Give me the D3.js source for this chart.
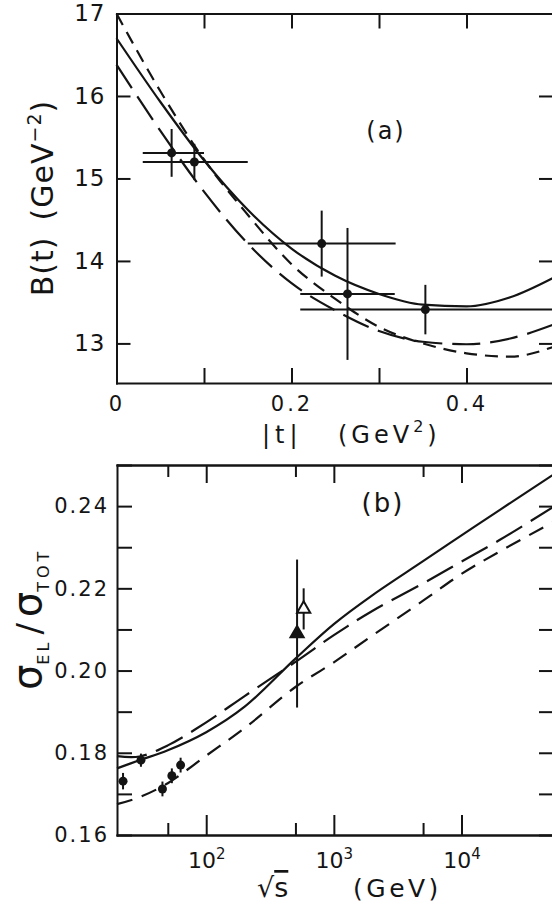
<!DOCTYPE html>
<html>
<head>
<meta charset="utf-8">
<script src="https://cdn.jsdelivr.net/npm/d3@7"></script>
<style>
  body { margin: 0; background: #fff; }
  svg { display: block; }
</style>
</head>
<body>
<div id="chart"></div>
<script>
// ---- panel (a): slope B(t) vs |t| ----
const tMid  = [0.063, 0.089, 0.2345, 0.264, 0.353];
const bMid  = [15.31, 15.20, 14.21, 13.60, 13.41];
const tLow  = [0.030, 0.030, 0.150, 0.210, 0.210];
const tHigh = [0.100, 0.150, 0.319, 0.318, 0.500];
const bErr  = [0.29, 0.22, 0.40, 0.80, 0.30];

const curveT     = [0, 0.05, 0.10, 0.15, 0.20, 0.25, 0.30, 0.35, 0.40, 0.45, 0.50];
const bSolid     = [16.70, 15.93, 15.22, 14.62, 14.15, 13.82, 13.60, 13.47, 13.45, 13.56, 13.80];
const bLongDash  = [16.38, 15.58, 14.84, 14.21, 13.73, 13.40, 13.15, 13.02, 12.99, 13.06, 13.23];
const bShortDash = [17.00, 16.06, 15.23, 14.56, 13.96, 13.54, 13.20, 13.00, 12.88, 12.84, 12.96];

const tTicks      = [0, 0.1, 0.2, 0.3, 0.4, 0.5];
const tTickLabels = ["0", "", "0.2", "", "0.4", ""];
const bTicks      = [13, 14, 15, 16, 17];

// ---- panel (b): sigma_el / sigma_tot vs sqrt(s) ----
const isrS     = [22.3, 30.8, 45.4, 53.8, 63.0];
const isrRatio = [0.1731, 0.1782, 0.1712, 0.1744, 0.1770];
const isrErr   = [0.0020, 0.0016, 0.0018, 0.0018, 0.0018];

const collS      = [515, 580];
const collRatio  = [0.2090, 0.2150];
const collErr    = [0.0180, 0.0050];
const collFilled = [true, false];

const curveS     = [20, 30, 50, 100, 200, 500, 1000, 2000, 5000, 10000, 20000, 55000];
const rSolid     = [0.1762, 0.1782, 0.1806, 0.1850, 0.1912, 0.2029, 0.2113, 0.2183, 0.2266, 0.2329, 0.2391, 0.2481];
const rLongDash  = [0.1792, 0.1791, 0.1818, 0.1874, 0.1938, 0.2021, 0.2086, 0.2145, 0.2212, 0.2265, 0.2318, 0.2402];
const rShortDash = [0.1675, 0.1692, 0.1726, 0.1793, 0.1860, 0.1960, 0.2020, 0.2085, 0.2170, 0.2235, 0.2290, 0.2365];

const sMajor     = [100, 1000, 10000];
const sMajorExp  = ["2", "3", "4"];
const sMinor     = [50, 500, 5000];
const rTicks      = [0.16, 0.17, 0.18, 0.19, 0.20, 0.21, 0.22, 0.23, 0.24, 0.25];
const rTickLabels = ["0.16", "", "0.18", "", "0.20", "", "0.22", "", "0.24", ""];

const width = 552, height = 905;
const ink = "#141414";
const fontFam = '"DejaVu Sans", sans-serif';

const svg = d3.select("#chart").append("svg")
    .attr("width", width)
    .attr("height", height)
    .attr("font-family", fontFam);

svg.append("rect").attr("width", width).attr("height", height).attr("fill", "#fff");

function styleAxis(g, fontSize, spacing) {
    g.attr("font-family", fontFam).attr("font-size", fontSize);
    g.select(".domain").attr("stroke", ink).attr("stroke-width", 2).attr("stroke-linecap", "square");
    g.selectAll(".tick line").attr("stroke", ink).attr("stroke-width", 2);
    g.selectAll(".tick text").attr("fill", ink).attr("letter-spacing", spacing);
}

// ================= panel (a) =================
const xA = d3.scaleLinear().domain([0, 0.5]).range([116.5, 554]);
const yA = d3.scaleLinear().domain([12.52, 17]).range([383, 13.5]);

svg.append("g")
    .attr("transform", `translate(0,${yA(12.52)})`)
    .call(d3.axisBottom(xA).tickValues(tTicks).tickSizeInner(-15).tickSizeOuter(0).tickPadding(13)
        .tickFormat((d, i) => tTickLabels[i]))
    .call(g => styleAxis(g, 21, 3));

svg.append("g")
    .attr("transform", `translate(0,${yA(17)})`)
    .call(d3.axisTop(xA).tickValues(tTicks).tickSizeInner(-15).tickSizeOuter(0).tickFormat(""))
    .call(g => styleAxis(g, 21, 0));

svg.append("g")
    .attr("transform", `translate(${xA(0)},0)`)
    .call(d3.axisLeft(yA).tickValues(bTicks).tickSizeInner(-14).tickSizeOuter(0).tickPadding(11)
        .tickFormat(d3.format("d")))
    .call(g => styleAxis(g, 23, 1));

svg.append("g")
    .attr("transform", `translate(${xA(0.5)},0)`)
    .call(d3.axisRight(yA).tickValues(bTicks).tickSizeInner(-15).tickSizeOuter(0).tickFormat(""))
    .call(g => styleAxis(g, 23, 0));

const lineA = ys => d3.line()
    .x((d, i) => xA(curveT[i]))
    .y(d => yA(d))
    .curve(d3.curveMonotoneX)(ys);

svg.append("path").attr("d", lineA(bSolid))
    .attr("fill", "none").attr("stroke", ink).attr("stroke-width", 2.2);
svg.append("path").attr("d", lineA(bLongDash))
    .attr("fill", "none").attr("stroke", ink).attr("stroke-width", 2.2).attr("stroke-dasharray", "28,10");
svg.append("path").attr("d", lineA(bShortDash))
    .attr("fill", "none").attr("stroke", ink).attr("stroke-width", 2.2).attr("stroke-dasharray", "13,8");

const ptsA = svg.append("g");
tMid.forEach((t, i) => {
    ptsA.append("line")
        .attr("x1", xA(tLow[i])).attr("x2", xA(tHigh[i]))
        .attr("y1", yA(bMid[i])).attr("y2", yA(bMid[i]))
        .attr("stroke", ink).attr("stroke-width", 2);
    ptsA.append("line")
        .attr("x1", xA(t)).attr("x2", xA(t))
        .attr("y1", yA(bMid[i] - bErr[i])).attr("y2", yA(bMid[i] + bErr[i]))
        .attr("stroke", ink).attr("stroke-width", 2);
    ptsA.append("circle")
        .attr("cx", xA(t)).attr("cy", yA(bMid[i])).attr("r", 4.5)
        .attr("fill", ink);
});

// labels (a)
svg.append("text").attr("x", 386).attr("y", 139).attr("text-anchor", "middle")
    .attr("font-size", 24).attr("letter-spacing", 2).attr("fill", ink).text("(a)");

const yLabA = svg.append("text")
    .attr("transform", "translate(53,198) rotate(-90)")
    .attr("text-anchor", "middle").attr("font-size", 30).attr("letter-spacing", 1).attr("fill", ink);
yLabA.append("tspan").text("B(t)");
yLabA.append("tspan").attr("dx", 16).text("(GeV");
yLabA.append("tspan").attr("dy", -12).attr("font-size", 19).text("−2");
yLabA.append("tspan").attr("dy", 12).text(")");

svg.append("text").attr("x", 262).attr("y", 443)
    .attr("font-size", 24).attr("letter-spacing", 5).attr("fill", ink).text("|t|");
const xLabA = svg.append("text").attr("x", 338).attr("y", 443)
    .attr("font-size", 24).attr("letter-spacing", 4).attr("fill", ink);
xLabA.append("tspan").text("(GeV");
xLabA.append("tspan").attr("dy", -11).attr("font-size", 16).text("2");
xLabA.append("tspan").attr("dy", 11).text(")");

// ================= panel (b) =================
const xB = d3.scaleLog().domain([20, 55000]).range([117, 556]);
const yB = d3.scaleLinear().domain([0.16, 0.25]).range([835, 465]);

svg.append("g")
    .attr("transform", `translate(0,${yB(0.16)})`)
    .call(d3.axisBottom(xB).tickValues(sMajor).tickSizeInner(-20).tickSizeOuter(0).tickPadding(17)
        .tickFormat(""))
    .call(g => styleAxis(g, 22, 0))
    .call(g => g.selectAll(".tick text").each(function(d, i) {
        const t = d3.select(this);
        t.append("tspan").text("10");
        t.append("tspan").attr("dy", "-0.55em").attr("font-size", 15).text(sMajorExp[i]);
    }));

svg.append("g")
    .attr("transform", `translate(0,${yB(0.16)})`)
    .call(d3.axisBottom(xB).tickValues(sMinor).tickSizeInner(-12).tickSizeOuter(0).tickFormat(""))
    .call(g => styleAxis(g, 22, 0));

svg.append("g")
    .attr("transform", `translate(0,${yB(0.25)})`)
    .call(d3.axisTop(xB).tickValues(sMajor).tickSizeInner(-18).tickSizeOuter(0).tickFormat(""))
    .call(g => styleAxis(g, 22, 0));

svg.append("g")
    .attr("transform", `translate(0,${yB(0.25)})`)
    .call(d3.axisTop(xB).tickValues(sMinor).tickSizeInner(-12).tickSizeOuter(0).tickFormat(""))
    .call(g => styleAxis(g, 22, 0));

svg.append("g")
    .attr("transform", `translate(${xB(20)},0)`)
    .call(d3.axisLeft(yB).tickValues(rTicks).tickSizeInner(-15).tickSizeOuter(0).tickPadding(8)
        .tickFormat((d, i) => rTickLabels[i]))
    .call(g => styleAxis(g, 21, 2));

svg.append("g")
    .attr("transform", `translate(${xB(55000) - 2},0)`)
    .call(d3.axisRight(yB).tickValues(rTicks).tickSizeInner(-15).tickSizeOuter(0).tickFormat(""))
    .call(g => styleAxis(g, 21, 0));

const lineB = ys => d3.line()
    .x((d, i) => xB(curveS[i]))
    .y(d => yB(d))
    .curve(d3.curveCatmullRom.alpha(0.5))(ys);

svg.append("path").attr("d", lineB(rSolid))
    .attr("fill", "none").attr("stroke", ink).attr("stroke-width", 2.2);
svg.append("path").attr("d", lineB(rLongDash))
    .attr("fill", "none").attr("stroke", ink).attr("stroke-width", 2.2).attr("stroke-dasharray", "30,10");
svg.append("path").attr("d", lineB(rShortDash))
    .attr("fill", "none").attr("stroke", ink).attr("stroke-width", 2.2).attr("stroke-dasharray", "16,10");

const ptsB = svg.append("g");
isrS.forEach((s, i) => {
    ptsB.append("line")
        .attr("x1", xB(s)).attr("x2", xB(s))
        .attr("y1", yB(isrRatio[i] - isrErr[i])).attr("y2", yB(isrRatio[i] + isrErr[i]))
        .attr("stroke", ink).attr("stroke-width", 2);
    ptsB.append("circle")
        .attr("cx", xB(s)).attr("cy", yB(isrRatio[i])).attr("r", 4.5)
        .attr("fill", ink);
});

collS.forEach((s, i) => {
    ptsB.append("line")
        .attr("x1", xB(s)).attr("x2", xB(s))
        .attr("y1", yB(collRatio[i] - collErr[i])).attr("y2", yB(collRatio[i] + collErr[i]))
        .attr("stroke", ink).attr("stroke-width", 2);
    ptsB.append("path")
        .attr("d", d3.symbol(d3.symbolTriangle, 75)())
        .attr("transform", `translate(${xB(s)},${yB(collRatio[i])})`)
        .attr("fill", collFilled[i] ? ink : "#fff")
        .attr("stroke", ink).attr("stroke-width", 2);
});

// labels (b)
svg.append("text").attr("x", 383).attr("y", 512).attr("text-anchor", "middle")
    .attr("font-size", 26).attr("letter-spacing", 2).attr("fill", ink).text("(b)");

const yLabB = svg.append("text")
    .attr("transform", "translate(41,690) rotate(-90)")
    .attr("text-anchor", "start").attr("fill", ink);
yLabB.append("tspan").attr("font-size", 40).text("σ");
yLabB.append("tspan").attr("font-size", 16).attr("letter-spacing", 3).attr("dy", 8).text("EL");
yLabB.append("tspan").attr("font-size", 34).attr("dx", 5).attr("dy", -8).text("/");
yLabB.append("tspan").attr("font-size", 40).attr("dx", 6).text("σ");
yLabB.append("tspan").attr("font-size", 16).attr("letter-spacing", 4).attr("dy", 8).text("TOT");

const xLabB = svg.append("text").attr("x", 257).attr("y", 897)
    .attr("font-size", 27).attr("fill", ink);
xLabB.append("tspan").text("√");
xLabB.append("tspan").attr("text-decoration", "overline").text("s");
svg.append("text").attr("x", 353).attr("y", 897)
    .attr("font-size", 25).attr("letter-spacing", 3.5).attr("fill", ink).text("(GeV)");
</script>
</body>
</html>
